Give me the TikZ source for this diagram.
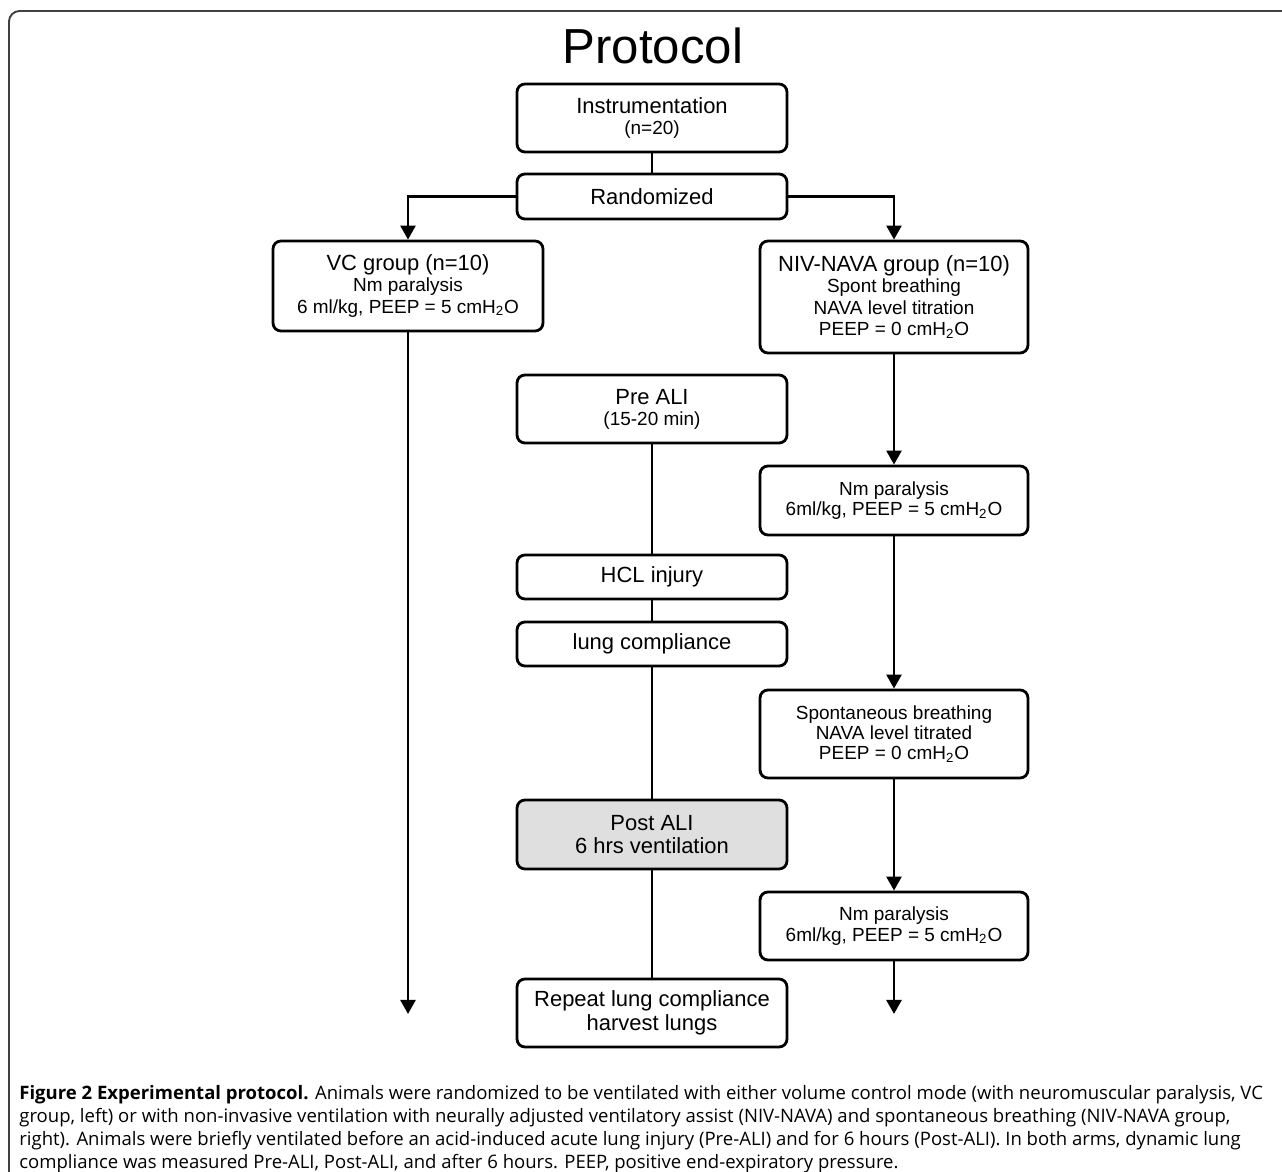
\documentclass[tikz,border=0pt]{standalone}
\usepackage{fontspec}
\setmainfont{Liberation Sans}
\newfontfamily\capfont{Open Sans}
\usetikzlibrary{arrows.meta}
\begin{document}
\begin{tikzpicture}[x=0.02cm, y=-0.02cm,
  stage/.style={draw, line width=1.6pt, rounded corners=4.5pt, align=center, inner sep=0pt, minimum width=5.4cm, font=\fontsize{12.5}{13}\selectfont},
  side/.style={stage, minimum width=5.36cm},
  shaded/.style={stage, fill=gray!25},
  small/.style={font=\fontsize{10.8}{11.6}\selectfont},
  link/.style={line width=1.6pt},
  flow/.style={link, -{Triangle[length=8pt, width=8.5pt]}}]
\useasboundingbox (0,0) rectangle (1282,1172);
\draw[line width=1.1pt, black!75, rounded corners=6pt] (9,1172) -- (9,11) -- (1282,11);
\node (title) at (653,46) {\fontsize{28}{30}\selectfont Protocol};
\node[stage, minimum height=1.36cm] (instr) at (652,118) {Instrumentation\\[-1pt]{\fontsize{10.8}{12}\selectfont (n=20)}};
\node[stage, minimum height=0.9cm] (rand) at (652,196.5) {Randomized};
\node[stage, minimum height=1.8cm, font=\fontsize{12.5}{12}\selectfont] (vc) at (408,286) {VC group (n=10)\\{\fontsize{10.8}{12}\selectfont Nm paralysis}\\{\fontsize{10.8}{12}\selectfont 6 ml/kg, PEEP = 5 cmH\textsubscript{2}O}};
\node[side, minimum height=2.24cm, font=\fontsize{12.5}{12}\selectfont] (niv) at (894,297) {NIV-NAVA group (n=10)\\{\fontsize{10.8}{12}\selectfont Spont breathing}\\{\fontsize{10.8}{12}\selectfont NAVA level titration}\\{\fontsize{10.8}{12}\selectfont PEEP = 0 cmH\textsubscript{2}O}};
\node[side, small, minimum height=1.38cm] (nm1) at (894,500.5) {Nm paralysis\\6ml/kg, PEEP = 5 cmH\textsubscript{2}O};
\node[side, small, minimum height=1.76cm] (spont) at (894,734) {Spontaneous breathing\\NAVA level titrated\\PEEP = 0 cmH\textsubscript{2}O};
\node[side, small, minimum height=1.36cm] (nm2) at (894,926) {Nm paralysis\\6ml/kg, PEEP = 5 cmH\textsubscript{2}O};
\node[stage, minimum height=1.36cm] (pre) at (652,409) {Pre ALI\\[-1pt]{\fontsize{10.8}{12}\selectfont (15-20 min)}};
\node[stage, minimum height=0.88cm] (hcl) at (652,577) {HCL injury};
\node[stage, minimum height=0.88cm] (lung) at (652,644) {lung compliance};
\node[shaded, minimum height=1.38cm, font=\fontsize{12.5}{13.6}\selectfont] (post) at (652,834.5) {Post ALI\\6 hrs ventilation};
\node[stage, minimum height=1.36cm, font=\fontsize{12.5}{13.6}\selectfont] (rep) at (652,1013) {Repeat lung compliance\\harvest lungs};
\coordinate (vcend) at (408,1014);
\coordinate (nivend) at (894,1014);
\draw[link] (instr) -- (rand);
\draw[flow] (rand.west) -| (vc.north);
\draw[flow] (rand.east) -| (niv.north);
\draw[flow] (vc) -- (vcend);
\draw[flow] (niv) -- (nm1);
\draw[flow] (nm1) -- (spont);
\draw[flow] (spont) -- (nm2);
\draw[flow] (nm2) -- (nivend);
\draw[link] (pre) -- (hcl);
\draw[link] (hcl) -- (lung);
\draw[link] (lung) -- (post);
\draw[link] (post) -- (rep);
\node[anchor=base west, align=left, inner sep=0pt, font=\capfont\fontsize{10.55}{13}\selectfont] (caption) at (19,1168)
  {\textbf{Figure 2 Experimental protocol.} Animals were randomized to be ventilated with either volume control mode (with neuromuscular paralysis, VC\\
  group, left) or with non-invasive ventilation with neurally adjusted ventilatory assist (NIV-NAVA) and spontaneous breathing (NIV-NAVA group,\\
  right). Animals were briefly ventilated before an acid-induced acute lung injury (Pre-ALI) and for 6 hours (Post-ALI). In both arms, dynamic lung\\
  compliance was measured Pre-ALI, Post-ALI, and after 6 hours. PEEP, positive end-expiratory pressure.};
\end{tikzpicture}
\end{document}
